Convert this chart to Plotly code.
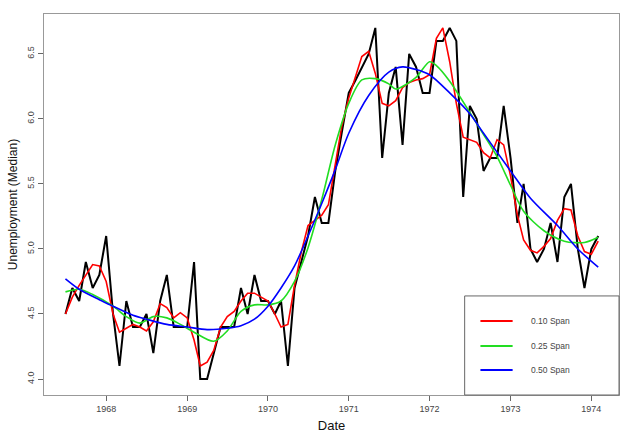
import pandas as pd
import plotly.graph_objects as go

# ---------------- data ----------------
dates = pd.date_range("1967-07-01", periods=80, freq="MS")

uempmed = [
    4.5, 4.7, 4.6, 4.9, 4.7, 4.8,
    5.1, 4.5, 4.1, 4.6, 4.4, 4.4, 4.5, 4.2, 4.6, 4.8, 4.4, 4.4,
    4.4, 4.9, 4.0, 4.0, 4.2, 4.4, 4.4, 4.4, 4.7, 4.5, 4.8, 4.6,
    4.6, 4.5, 4.6, 4.1, 4.7, 4.9, 5.1, 5.4, 5.2, 5.2, 5.6, 5.9,
    6.2, 6.3, 6.4, 6.5, 6.7, 5.7, 6.2, 6.4, 5.8, 6.5, 6.4, 6.2,
    6.2, 6.6, 6.6, 6.7, 6.6, 5.4, 6.1, 6.0, 5.6, 5.7, 5.7, 6.1,
    5.7, 5.2, 5.5, 5.0, 4.9, 5.0, 5.2, 4.9, 5.4, 5.5, 5.0, 4.7,
    5.0, 5.1,
]

# smoothed curve readings (span 0.10) at every month
smooth_10 = [
    4.50, 4.63, 4.72, 4.80, 4.88, 4.87, 4.75, 4.50, 4.36, 4.39,
    4.42, 4.40, 4.37, 4.44, 4.58, 4.55, 4.47, 4.51, 4.47, 4.30,
    4.10, 4.13, 4.22, 4.40, 4.48, 4.52, 4.60, 4.66, 4.66, 4.63,
    4.60, 4.50, 4.40, 4.42, 4.72, 4.98, 5.18, 5.22, 5.26, 5.34,
    5.66, 5.95, 6.16, 6.33, 6.48, 6.52, 6.35, 6.12, 6.10, 6.14,
    6.24, 6.28, 6.30, 6.31, 6.34, 6.62, 6.70, 6.44, 6.12, 5.86,
    5.84, 5.82, 5.74, 5.70, 5.84, 5.80, 5.56, 5.26, 5.07, 4.99,
    4.97, 5.02, 5.08, 5.22, 5.31, 5.30, 5.10, 4.98, 4.96, 5.06,
]

# span 0.25 readings at selected months
idx_25 = [0, 2, 4, 7, 9, 11, 13, 15, 17, 19, 22, 24, 26, 28, 30, 32, 34, 36,
          38, 40, 42, 44, 46, 48, 49, 52, 54, 55, 57, 60, 62, 64, 66, 68, 71,
          74, 77, 79]
smooth_25 = [4.67, 4.69, 4.65, 4.56, 4.48, 4.43, 4.48, 4.47, 4.42, 4.36,
             4.29, 4.37, 4.52, 4.57, 4.57, 4.60, 4.75, 5.01, 5.38, 5.80,
             6.12, 6.30, 6.31, 6.27, 6.23, 6.32, 6.44, 6.41, 6.29, 6.05,
             5.88, 5.71, 5.49, 5.29, 5.14, 5.06, 5.05, 5.09]

# span 0.50 readings at selected months
idx_50 = [0, 2, 5, 7, 10, 12, 15, 18, 21, 24, 26, 28, 30, 32, 34, 36, 38, 40,
          42, 45, 48, 50, 52, 54, 57, 60, 62, 66, 69, 73, 76, 79]
smooth_50 = [4.77, 4.69, 4.61, 4.56, 4.49, 4.46, 4.42, 4.40, 4.38, 4.39,
             4.41, 4.46, 4.56, 4.70, 4.87, 5.10, 5.35, 5.61, 5.89, 6.18,
             6.36, 6.40, 6.38, 6.34, 6.20, 6.04, 5.89, 5.60, 5.39, 5.18,
             5.00, 4.86]

legend_labels = ["0.10 Span", "0.25 Span", "0.50 Span"]
tick_years = ["1968", "1969", "1970", "1971", "1972", "1973", "1974"]
y_ticks = [4.0, 4.5, 5.0, 5.5, 6.0, 6.5]

# ---------------- figure ----------------
RED, GREEN, BLUE = "#FF0000", "#22DD22", "#0000FF"

fig = go.Figure()
fig.add_trace(go.Scatter(x=dates, y=uempmed, mode="lines",
                         line=dict(color="black", width=2), showlegend=False))
fig.add_trace(go.Scatter(x=dates, y=smooth_10, mode="lines",
                         line=dict(color=RED, width=1.6), showlegend=False))
fig.add_trace(go.Scatter(x=dates[idx_25], y=smooth_25, mode="lines",
                         line=dict(color=GREEN, width=1.6, shape="spline", smoothing=0.8),
                         showlegend=False))
fig.add_trace(go.Scatter(x=dates[idx_50], y=smooth_50, mode="lines",
                         line=dict(color=BLUE, width=1.6, shape="spline", smoothing=0.8),
                         showlegend=False))

# legend box (drawn like R's legend)
px0, px1 = 0.7316, 1.0
shapes = [dict(type="rect", xref="paper", yref="paper", x0=px0, x1=px1, y0=0, y1=0.26,
               line=dict(color="#666666", width=1), fillcolor="white", layer="above")]
annotations = []
for lab, col, yy in zip(legend_labels, [RED, GREEN, BLUE], [0.194, 0.1286, 0.0656]):
    shapes.append(dict(type="line", xref="paper", yref="paper", x0=0.759, x1=0.815,
                       y0=yy, y1=yy, line=dict(color=col, width=2), layer="above"))
    annotations.append(dict(xref="paper", yref="paper", x=0.843, y=yy, text=lab,
                            showarrow=False, xanchor="left", yanchor="middle",
                            font=dict(size=8.5, color="#444444",
                                      family="Liberation Sans, Arial, sans-serif")))

fig.update_layout(
    width=624, height=437,
    margin=dict(l=44, r=5, t=14, b=42),
    plot_bgcolor="white", paper_bgcolor="white",
    font=dict(family="Liberation Sans, Arial, sans-serif", color="#222222"),
    shapes=shapes, annotations=annotations,
    showlegend=False,
)
fig.update_xaxes(
    type="date",
    range=["1967-03-26", "1974-05-06"],
    tickvals=[y + "-01-01" for y in tick_years],
    ticktext=tick_years,
    ticks="outside", ticklen=5, tickcolor="#666666",
    tickfont=dict(size=9, color="#444444"),
    showgrid=False, zeroline=False,
    showline=True, linecolor="#999999", linewidth=1, mirror=True,
    title=dict(text="Date", font=dict(size=13, color="#111111"), standoff=8),
)
fig.update_yaxes(
    range=[3.877, 6.807],
    tickvals=y_ticks,
    ticktext=[f"{v:.1f}" for v in y_ticks],
    tickangle=-90,
    ticks="outside", ticklen=5, tickcolor="#666666",
    tickfont=dict(size=9, color="#444444"),
    showgrid=False, zeroline=False,
    showline=True, linecolor="#999999", linewidth=1, mirror=True,
    title=dict(text="Unemployment (Median)", font=dict(size=12, color="#111111"), standoff=6),
)

fig.write_html("out.html")
